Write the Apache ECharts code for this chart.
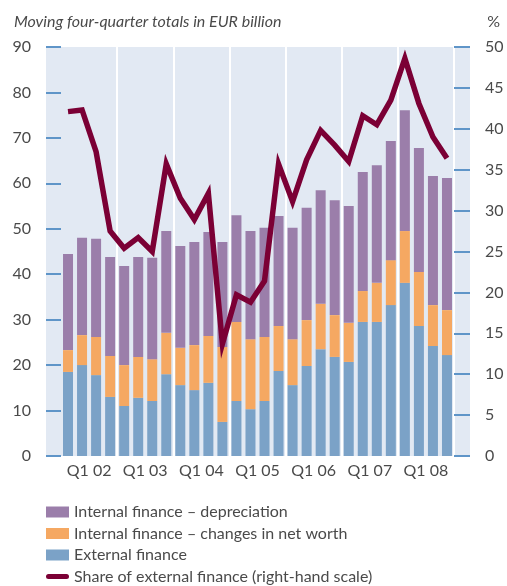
<!DOCTYPE html>
<html>
<head>
<meta charset="utf-8">
<script src="https://cdn.jsdelivr.net/npm/echarts@6/dist/echarts.min.js"></script>
<style>html,body{margin:0;padding:0;background:#fff}#c{width:507px;height:586px}</style>
</head>
<body>
<div id="c"></div>
<script>
// Quarters (moving four-quarter totals)
var quarters = [
  '2002Q1','2002Q2','2002Q3','2002Q4',
  '2003Q1','2003Q2','2003Q3','2003Q4',
  '2004Q1','2004Q2','2004Q3','2004Q4',
  '2005Q1','2005Q2','2005Q3','2005Q4',
  '2006Q1','2006Q2','2006Q3','2006Q4',
  '2007Q1','2007Q2','2007Q3','2007Q4',
  '2008Q1','2008Q2','2008Q3','2008Q4'
];
var yearLabels = ['Q1 02','Q1 03','Q1 04','Q1 05','Q1 06','Q1 07','Q1 08'];

// EUR billion
var externalFinance = [18.5,20.0,17.8,13.0,11.0,12.8,12.1,18.0,15.6,14.5,16.1,7.5,12.1,10.3,
                       12.1,18.7,15.6,19.8,23.5,21.8,20.7,29.5,29.5,33.2,38.1,28.6,24.2,22.2];
var changesNetWorth = [4.8,6.6,8.4,9.0,9.0,9.0,9.2,9.1,8.2,9.9,10.3,16.5,17.4,15.4,
                       14.1,9.9,10.1,10.1,10.0,9.2,8.6,6.8,8.6,9.9,11.4,11.9,9.0,9.9];
var depreciation    = [21.15,21.4,21.6,21.8,21.8,22.0,22.3,22.4,22.4,22.7,22.9,23.1,23.5,23.8,
                       24.0,24.2,24.5,24.7,25.0,25.3,25.7,26.2,25.9,26.2,26.6,27.3,28.4,29.1];
// %
var shareExternal   = [42.1,42.3,37.2,27.5,25.4,26.7,25.0,35.7,31.5,28.9,32.1,13.7,19.7,18.8,
                       21.4,35.7,31.1,36.2,39.8,38.0,36.0,41.6,40.5,43.5,48.6,43.1,39.0,36.4];

var leftTicks = {min:0, max:90, interval:10};
var rightTicks = {min:0, max:50, interval:5};

var FONT = 'Lato, "Open Sans", sans-serif';
var TXT = '#4a4a4a';
var chart = echarts.init(document.getElementById('c'), null, {renderer:'canvas'});
var tickStyle = {color:'#5f95c8', width:2};

chart.setOption({
  animation:false,
  textStyle:{fontFamily:FONT},
  title:[
    {text:'Moving four-quarter totals in EUR billion', left:9, top:9,
     textStyle:{fontFamily:FONT, fontStyle:'italic', fontWeight:'normal', fontSize:16, color:TXT}},
    {text:'%', right:2, top:9,
     textStyle:{fontFamily:FONT, fontWeight:'normal', fontSize:16, color:TXT}}
  ],
  graphic:[{type:'rect', z:-10, shape:{x:46, y:47, width:424, height:409}, style:{fill:'#e2e9f3'}}],
  grid:{left:61, right:53, top:47, bottom:130},
  legend:{
    orient:'vertical', left:46, top:504, padding:0, height:90, itemWidth:23, itemHeight:11, itemGap:5.5, itemTextGap:12,
    symbolKeepAspect:true,
    textStyle:{fontFamily:FONT, fontSize:16, color:TXT, lineHeight:16},
    data:[
      {name:'Internal finance \u2013 depreciation', icon:'rect'},
      {name:'Internal finance \u2013 changes in net worth', icon:'rect'},
      {name:'External finance', icon:'rect'},
      {name:'Share of external finance (right-hand scale)',
       icon:'path://M2.5,0 L20.5,0 A2.5,2.5 0 0 1 20.5,5 L2.5,5 A2.5,2.5 0 0 1 2.5,0 Z',
       itemStyle:{color:'#7b0035'}}
    ]
  },
  xAxis:[
    {type:'category', data:quarters, axisLine:{show:false}, axisTick:{show:false}, axisLabel:{show:false},
     splitLine:{show:true, interval:function(i){return i>0 && i<28 && i%4===0;}, lineStyle:{color:'#ffffff', width:2}}},
    {type:'category', data:yearLabels, position:'bottom', axisLine:{show:false}, axisTick:{show:false},
     axisLabel:{interval:0, fontFamily:FONT, fontSize:16, color:TXT, margin:7}, splitLine:{show:false}}
  ],
  yAxis:[
    {type:'value', min:leftTicks.min, max:leftTicks.max, interval:leftTicks.interval, position:'left',
     axisLine:{show:false}, axisTick:{show:true, inside:false, length:15, lineStyle:tickStyle},
     axisLabel:{fontFamily:FONT, fontSize:16, color:TXT, margin:30}, splitLine:{show:false}},
    {type:'value', min:rightTicks.min, max:rightTicks.max, interval:rightTicks.interval, position:'right',
     axisLine:{show:false}, axisTick:{show:true, inside:false, length:16, lineStyle:tickStyle},
     axisLabel:{fontFamily:FONT, fontSize:16, color:TXT, margin:31}, splitLine:{show:false}}
  ],
  series:[
    {name:'External finance', type:'bar', stack:'t', barWidth:10, data:externalFinance,
     itemStyle:{color:'#7ba2c7'}},
    {name:'Internal finance \u2013 changes in net worth', type:'bar', stack:'t', barWidth:10, data:changesNetWorth,
     itemStyle:{color:'#f5a862'}},
    {name:'Internal finance \u2013 depreciation', type:'bar', stack:'t', barWidth:10, data:depreciation,
     itemStyle:{color:'#9b7eaa'}},
    {name:'Share of external finance (right-hand scale)', type:'line', yAxisIndex:1, data:shareExternal,
     symbol:'none', lineStyle:{color:'#7b0035', width:5.5, join:'miter'}, itemStyle:{color:'#7b0035'}, z:5}
  ]
});
</script>
</body>
</html>
